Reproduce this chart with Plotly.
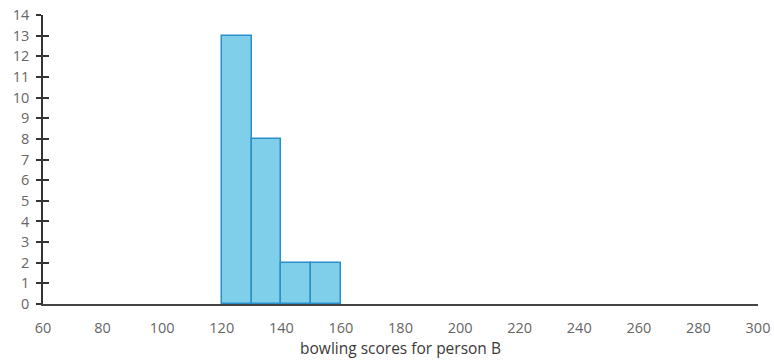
import plotly.graph_objects as go

bin_left = [120, 130, 140, 150]
counts = [13, 8, 2, 2]
bin_width = 10
x_ticks = list(range(60, 301, 20))
y_ticks = list(range(0, 15))

fig = go.Figure()
fig.add_trace(go.Bar(
    x=[b + bin_width / 2 for b in bin_left], y=counts, width=bin_width,
    marker=dict(color="#7fcfeb", line=dict(color="#2b90c9", width=1.5)),
))
fig.add_trace(go.Scatter(x=[60], y=[0], yaxis="y2", mode="markers",
                         marker=dict(opacity=0), showlegend=False, hoverinfo="skip"))

font = dict(family="Open Sans", size=14.5, color="#666666")
fig.update_layout(
    template="none",
    width=774, height=361, plot_bgcolor="white", paper_bgcolor="white",
    margin=dict(l=43, r=16, t=15, b=57), showlegend=False, bargap=0,
    font=font,
    xaxis=dict(range=[60, 300], tickvals=x_ticks, showgrid=False, zeroline=False,
               showline=True, linecolor="#444", linewidth=2, ticks="", automargin=False,
               ticklabelstandoff=10, ticklabeloverflow="allow",
               title=dict(text="bowling scores for person B",
                          font=dict(family="Open Sans", size=15.5, color="#3a3a3a"), standoff=4),
               tickfont=font),
    yaxis=dict(range=[0, 14], tickvals=y_ticks, showgrid=False, zeroline=False,
               showline=True, linecolor="#333", linewidth=1.5, ticks="outside", automargin=False,
               ticklen=5, tickcolor="#333", tickwidth=1.5, tickfont=font, ticklabelstandoff=4,
               ticklabeloverflow="allow"),
    yaxis2=dict(range=[0, 14], tickvals=y_ticks, overlaying="y", side="left", automargin=False,
                showgrid=False, zeroline=False, showline=False, ticks="inside",
                ticklen=6, tickcolor="#333", tickwidth=1.5, showticklabels=False),
)
fig.write_html("out.html", config={"displayModeBar": False},
               post_script="document.body.style.margin='0';document.body.style.overflow='hidden';")
